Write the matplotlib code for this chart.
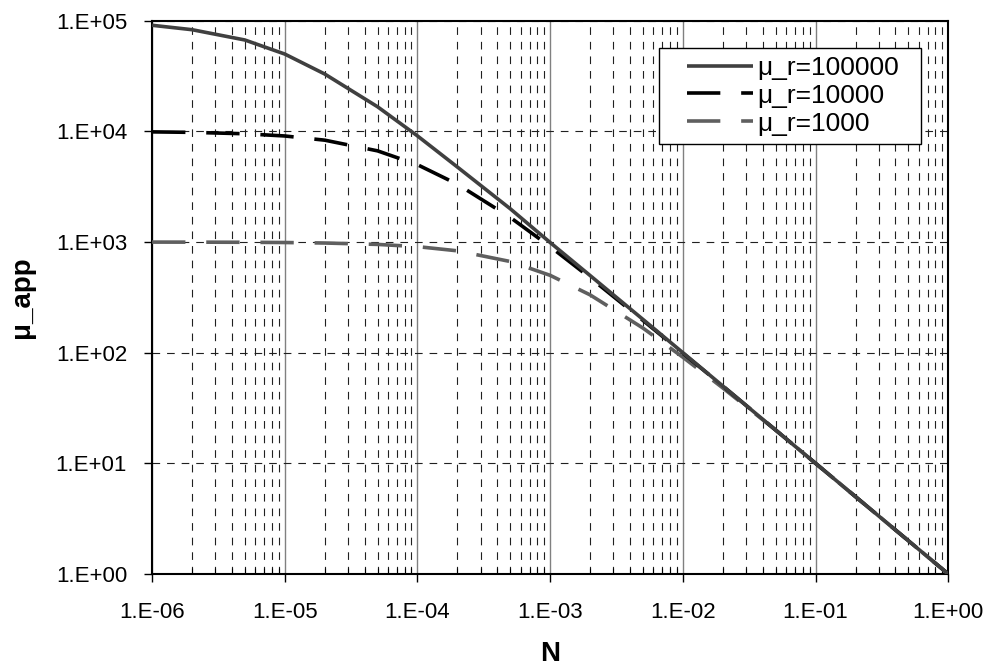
import math
import matplotlib.pyplot as plt
from matplotlib.legend_handler import HandlerLine2D
from matplotlib.ticker import FuncFormatter, LogLocator, NullFormatter

plt.rcParams['font.family'] = ['Liberation Sans', 'DejaVu Sans']
plt.rcParams['lines.scale_dashes'] = False

# N values (1-2-5 per decade)
N = [1e-6, 2e-6, 5e-6, 1e-5, 2e-5, 5e-5, 1e-4, 2e-4, 5e-4, 1e-3,
     2e-3, 5e-3, 1e-2, 2e-2, 5e-2, 1e-1, 2e-1, 5e-1, 1.0]

mu_100000 = [91000, 83000, 67000, 50000, 33000, 16700, 9100, 4760, 2000, 990,
             498, 200, 100, 50, 20, 10, 5, 2, 1]
mu_10000 = [9900, 9800, 9520, 9090, 8330, 6670, 5000, 3330, 1670, 909,
            476, 196, 99, 50, 20, 10, 5, 2, 1]
mu_1000 = [999, 998, 995, 990, 980, 952, 909, 833, 667, 500,
           333, 167, 91, 48, 20, 10, 5, 2, 1]

labels = ['\u03bc_r=100000', '\u03bc_r=10000', '\u03bc_r=1000']

fig = plt.figure(figsize=(9.94, 6.69), dpi=100)
ax = fig.add_axes([0.153, 0.142, 0.801, 0.827])

ax.plot(N, mu_100000, color='#404040', lw=2.6, solid_capstyle='butt', label=labels[0], zorder=5)
ax.plot(N, mu_10000, color='black', lw=2.6, dashes=(24, 15), dash_capstyle='butt',
        label=labels[1], zorder=4)
ax.plot(N, mu_1000, color='#5f5f5f', lw=2.6, dashes=(24, 15), dash_capstyle='butt',
        label=labels[2], zorder=3)

ax.set_xscale('log')
ax.set_yscale('log')
ax.set_xlim(1e-6, 1)
ax.set_ylim(1, 1e5)

fmt = FuncFormatter(lambda v, p: '1.E%+03d' % round(math.log10(v)))
ax.xaxis.set_major_formatter(fmt)
ax.yaxis.set_major_formatter(fmt)
ax.xaxis.set_major_locator(LogLocator(base=10, numticks=10))
ax.yaxis.set_major_locator(LogLocator(base=10, numticks=10))
ax.xaxis.set_minor_locator(LogLocator(base=10, subs=range(2, 10), numticks=100))
ax.xaxis.set_minor_formatter(NullFormatter())
ax.yaxis.set_minor_locator(LogLocator(base=10, subs=[], numticks=10))

ax.tick_params(axis='x', which='major', direction='out', length=6, width=1, labelsize=16, pad=14)
ax.tick_params(axis='x', which='minor', direction='in', length=4, width=0.8)
ax.tick_params(axis='y', which='major', direction='out', length=6, width=1, labelsize=16, pad=12)
ax.tick_params(axis='y', which='minor', length=0)

ax.grid(True, axis='x', which='major', color='#808080', lw=1, ls='-')
ax.grid(True, axis='x', which='minor', color='#202020', lw=0.8, ls=(0, (5.5, 5)))
ax.grid(True, axis='y', which='major', color='#202020', lw=0.8, ls=(0, (5.5, 5)))
ax.set_axisbelow(True)

for s in ax.spines.values():
    s.set_linewidth(1.5)
    s.set_color('black')

ax.set_xlabel('N', fontsize=20, fontweight='bold', labelpad=13)
ax.set_ylabel('\u03bc_app', fontsize=20, fontweight='bold', labelpad=15)

hl = HandlerLine2D(xpad=0.75)
leg = ax.legend(loc='upper left', bbox_to_anchor=(0.637, 0.754, 0.329, 0.197), mode='expand',
                borderaxespad=0, fontsize=19, frameon=True, fancybox=False, edgecolor='black',
                framealpha=1, handlelength=3.25, borderpad=0.3, labelspacing=0.15,
                handletextpad=0.15,
                handler_map={l: hl for l in ax.get_lines()})
leg.get_frame().set_linewidth(1)

fig.savefig('out.png', dpi=100)
